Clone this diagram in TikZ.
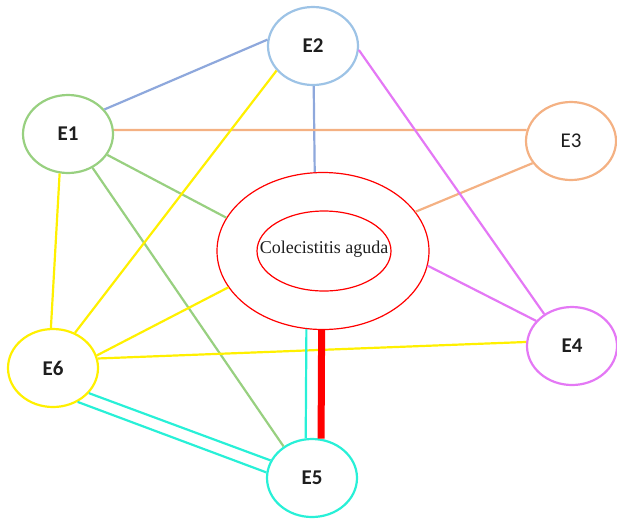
\documentclass[tikz,border=0pt]{standalone}
\usepackage{fontspec}
\setmainfont{Liberation Serif}
\newfontfamily\labelfont{Carlito}
\usetikzlibrary{shapes.geometric}

\definecolor{cgreen}{RGB}{152,208,128}
\definecolor{cbluebox}{RGB}{157,195,230}
\definecolor{cblue}{RGB}{142,168,220}
\definecolor{corange}{RGB}{244,177,131}
\definecolor{cmagenta}{RGB}{228,120,245}
\definecolor{ccyan}{RGB}{40,240,215}
\definecolor{cyellow}{RGB}{255,240,0}
\definecolor{cred}{RGB}{255,0,0}
\definecolor{ctext}{RGB}{30,30,30}

\tikzset{
  entity/.style={ellipse, draw, line width=2.2pt, inner sep=0pt,
    minimum width=90pt, minimum height=78pt, fill=white,
    font=\labelfont\fontsize{21}{22}\selectfont, text=ctext},
  core/.style={ellipse, draw=cred, line width=1.2pt, inner sep=0pt},
  link/.style={line width=2.2pt},
}

\begin{document}
\begin{tikzpicture}[x=1pt,y=-1pt]
\useasboundingbox (0,0) rectangle (617,520);

% central disease node: two concentric rings and the name
\node[core, minimum width=212pt, minimum height=157pt] (outer) at (323,251) {};
\node[core, minimum width=134pt, minimum height=80pt] (inner) at (324,251) {};
\node[inner sep=0pt, font=\fontsize{18}{19}\selectfont, text=ctext]
  (name) at (324,249) {Colecistitis aguda};

% surrounding entities
\node[entity, draw=cgreen]   (e1) at (68,134)  {\bfseries E1};
\node[entity, draw=cbluebox] (e2) at (313,46)  {\bfseries E2};
\node[entity, draw=corange]  (e3) at (571,141) {E3};
\node[entity, draw=cmagenta] (e4) at (572,346) {\bfseries E4};
\node[entity, draw=ccyan]    (e5) at (312,478) {\bfseries E5};
\node[entity, draw=cyellow]  (e6) at (53,368)  {\bfseries E6};

% connectors
\draw[link, cblue]    (e1.34)   -- (e2.172);
\draw[link, cblue]    (e2.-89)  -- (outer.96);
\draw[link, corange]  (e1.5)    -- (e3.166);
\draw[link, corange]  (e3.-150) -- (outer.23);
\draw[link, cgreen]   (e1.-28)  -- (outer.161);
\draw[link, cgreen]   (e1.-54)  -- (e5.132);
\draw[link, cyellow]  (e1.-102) -- (e6.93);
\draw[link, cyellow]  (e2.-146) -- (e6.58);
\draw[link, cyellow]  (outer.-159) -- (e6.16);
\draw[link, cyellow]  (e4.175)  -- (e6.12);
\draw[link, cmagenta] (e2.-5)   -- (e4.131);
\draw[link, cmagenta] (outer.-8) -- (e4.145);
\draw[link, ccyan]    (outer.-102) -- (e5.99);
\draw[line width=7pt, cred] (outer.-91) -- (e5.77);
\draw[link, ccyan]    (e6.-35)  -- (e5.157);
\draw[link, ccyan]    (e6.-54)  -- (e5.173);
\end{tikzpicture}
\end{document}
